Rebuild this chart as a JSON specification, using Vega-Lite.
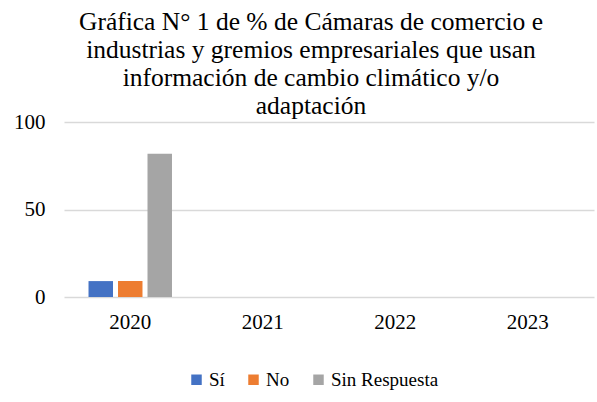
{
  "$schema": "https://vega.github.io/schema/vega-lite/v6.json",
  "autosize": {"type": "none"},
  "width": 530,
  "height": 175,
  "padding": {"left": 64, "top": 122, "right": 3, "bottom": 105},
  "background": "white",
  "title": {
    "text": ["Gráfica N° 1 de % de Cámaras de comercio e", "industrias y gremios empresariales que usan", "información de cambio climático y/o", "adaptación"],
    "font": "Liberation Serif",
    "fontSize": 25.5,
    "fontWeight": "normal",
    "color": "#000000",
    "lineHeight": 28,
    "anchor": "middle",
    "dx": -18,
    "offset": -8
  },
  "data": {
    "values": [
      {"year": "2020", "cat": "Sí", "value": 9.09},
      {"year": "2020", "cat": "No", "value": 9.09},
      {"year": "2020", "cat": "Sin Respuesta", "value": 81.82},
      {"year": "2021", "cat": "Sí", "value": 0},
      {"year": "2021", "cat": "No", "value": 0},
      {"year": "2021", "cat": "Sin Respuesta", "value": 0},
      {"year": "2022", "cat": "Sí", "value": 0},
      {"year": "2022", "cat": "No", "value": 0},
      {"year": "2022", "cat": "Sin Respuesta", "value": 0},
      {"year": "2023", "cat": "Sí", "value": 0},
      {"year": "2023", "cat": "No", "value": 0},
      {"year": "2023", "cat": "Sin Respuesta", "value": 0}
    ]
  },
  "mark": {"type": "bar"},
  "encoding": {
    "x": {
      "field": "year",
      "type": "nominal",
      "title": null,
      "scale": {"paddingInner": 0.37, "paddingOuter": 0.185},
      "axis": {
        "labelAngle": 0,
        "domain": false,
        "ticks": false,
        "labelPadding": 14,
        "labelFont": "Liberation Serif",
        "labelFontSize": 21,
        "labelColor": "#000000"
      }
    },
    "xOffset": {
      "field": "cat",
      "type": "nominal",
      "sort": ["Sí", "No", "Sin Respuesta"],
      "scale": {"paddingInner": 0.17, "paddingOuter": 0}
    },
    "y": {
      "field": "value",
      "type": "quantitative",
      "title": null,
      "scale": {"domain": [0, 100], "nice": false},
      "axis": {
        "values": [0, 50, 100],
        "domain": false,
        "ticks": false,
        "labelPadding": 19,
        "labelFont": "Liberation Serif",
        "labelFontSize": 21,
        "labelColor": "#000000",
        "gridColor": "#D9D9D9",
        "gridWidth": 1.3
      }
    },
    "color": {
      "field": "cat",
      "type": "nominal",
      "sort": ["Sí", "No", "Sin Respuesta"],
      "scale": {"domain": ["Sí", "No", "Sin Respuesta"], "range": ["#4472C4", "#ED7D31", "#A5A5A5"]},
      "legend": {
        "title": null,
        "orient": "none",
        "direction": "horizontal",
        "legendX": 123,
        "legendY": 248,
        "symbolType": "square",
        "symbolSize": 110,
        "symbolStrokeWidth": 0,
        "labelOffset": 3,
        "columnPadding": 19,
        "labelFont": "Liberation Serif",
        "labelFontSize": 19,
        "labelColor": "#000000"
      }
    }
  },
  "config": {
    "font": "Liberation Serif",
    "view": {"stroke": null}
  }
}
